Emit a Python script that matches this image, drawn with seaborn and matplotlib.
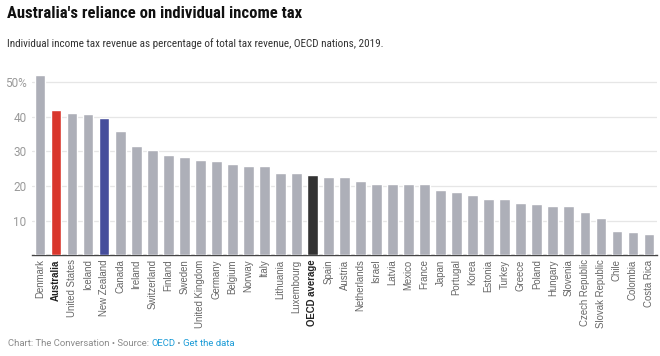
import matplotlib
matplotlib.use("Agg")
import matplotlib.pyplot as plt
from matplotlib import font_manager
import seaborn as sns
import pandas as pd

countries = ["Denmark", "Australia", "United States", "Iceland", "New Zealand", "Canada",
             "Ireland", "Switzerland", "Finland", "Sweden", "United Kingdom", "Germany",
             "Belgium", "Norway", "Italy", "Lithuania", "Luxembourg", "OECD average",
             "Spain", "Austria", "Netherlands", "Israel", "Latvia", "Mexico", "France",
             "Japan", "Portugal", "Korea", "Estonia", "Turkey", "Greece", "Poland",
             "Hungary", "Slovenia", "Czech Republic", "Slovak Republic", "Chile",
             "Colombia", "Costa Rica"]
values = [52.0, 41.9, 41.1, 40.9, 39.6, 35.9, 31.5, 30.5, 28.9, 28.5, 27.6, 27.3,
          26.3, 25.9, 25.7, 23.7, 23.7, 23.3, 22.5, 22.5, 21.6, 20.7, 20.7, 20.7,
          20.5, 18.8, 18.3, 17.3, 16.4, 16.2, 15.2, 14.9, 14.2, 14.2, 12.5, 10.7,
          6.9, 6.6, 6.1]
yticks = [10, 20, 30, 40, 50]
ytick_labels = ["10", "20", "30", "40", "50%"]
highlight_colors = {"Australia": "#d9362c", "New Zealand": "#464e9c", "OECD average": "#333333"}
base_color = "#adafb8"

title_text = "Australia's reliance on individual income tax"
subtitle_text = "Individual income tax revenue as percentage of total tax revenue, OECD nations, 2019."

df = pd.DataFrame({"country": countries, "value": values})
palette = {c: highlight_colors.get(c, base_color) for c in countries}

sns.set_theme(style="white")
plt.rcParams["font.family"] = ["Roboto", "DejaVu Sans"]

installed = {f.name for f in font_manager.fontManager.ttflist}
head_font = "Roboto"
for cand in ["Roboto Condensed", "Liberation Sans Narrow"]:
    if cand in installed:
        head_font = cand
        break

fig = plt.figure(figsize=(6.6, 3.56), dpi=100)
ax = fig.add_axes([32 / 660, 1 - 255.3 / 356, (657 - 32) / 660, 0.808 - (1 - 255.3 / 356)])

sns.barplot(data=df, x="country", y="value", hue="country", palette=palette,
            width=0.67, legend=False, ax=ax, saturation=1, zorder=3)

ax.set_xlim(-0.5, len(countries) - 0.5)
ax.set_ylim(0, 54)
ax.set_yticks(yticks)
ax.set_yticklabels(ytick_labels)
ax.yaxis.grid(True, color="#e6e6e6", linewidth=0.9, zorder=0)
ax.set_axisbelow(True)
for s in ["top", "right", "left"]:
    ax.spines[s].set_visible(False)
ax.spines["bottom"].set_color("#444444")
ax.spines["bottom"].set_linewidth(1.0)
ax.set_xlabel("")
ax.set_ylabel("")
ax.tick_params(axis="y", length=0, labelsize=8.5, labelcolor="#9a9a9a", pad=4)
ax.tick_params(axis="x", length=0, labelsize=6.9, labelcolor="#666666", pad=3)
ax.set_xticks(range(len(countries)))
ax.set_xticklabels(countries, rotation=90, fontfamily=["Liberation Sans", "DejaVu Sans"])
for lbl in ax.get_xticklabels():
    if lbl.get_text() in ("Australia", "OECD average"):
        lbl.set_fontweight("bold")
        lbl.set_color("#222222")

fig.canvas.draw()
renderer = fig.canvas.get_renderer()


def fitted_text(x, y, s, size, width_px, min_size, **kw):
    t = fig.text(x, y, s, fontsize=size, **kw)
    w = t.get_window_extent(renderer=renderer).width
    new = max(min_size, min(size, size * width_px / w))
    t.set_fontsize(new)
    return t


fitted_text(7 / 660, 1 - 14 / 356, title_text, 13.5, 294, 11.5,
            fontweight="bold", color="#111111", va="center", ha="left",
            fontfamily=[head_font, "DejaVu Sans"])
fitted_text(7 / 660, 1 - 44 / 356, subtitle_text, 9.2, 363, 8.0,
            color="#333333", va="center", ha="left", fontfamily=[head_font, "DejaVu Sans"])

# footer with mixed colours
parts = [("Chart: The Conversation \u2022 Source: ", "#8a8a8a"), ("OECD", "#1a9bd7"),
         (" \u2022 ", "#8a8a8a"), ("Get the data", "#1a9bd7")]
x = 8
for txt, col in parts:
    t = fig.text(x / 660, 1 - 343 / 356, txt, fontsize=6.8, color=col, va="center", ha="left")
    bb = t.get_window_extent(renderer=renderer)
    x += bb.width

fig.savefig("out.png", dpi=100)
